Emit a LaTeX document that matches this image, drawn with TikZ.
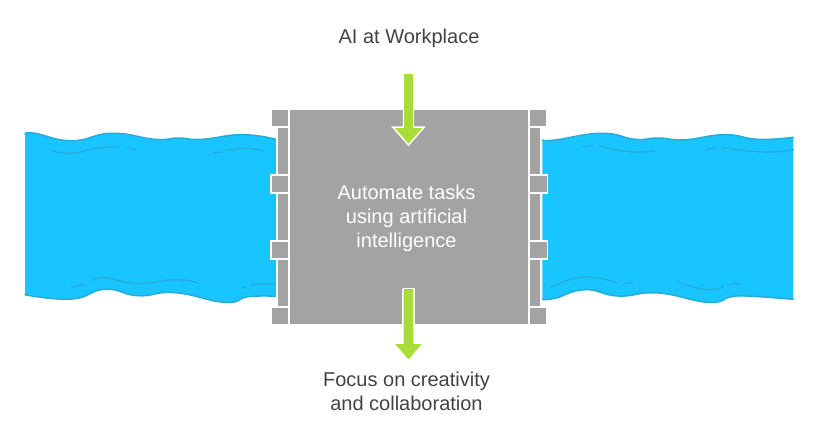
\documentclass[tikz,border=0pt]{standalone}
\usepackage{fontspec}
\setmainfont{Liberation Sans}
\usetikzlibrary{calc}

\definecolor{riverblue}{HTML}{19C5FF}
\definecolor{riverline}{HTML}{27ACD9}
\definecolor{damgray}{HTML}{A3A3A3}
\definecolor{arrowgreen}{HTML}{A8DC36}
\definecolor{labeltext}{HTML}{434343}

\tikzset{
    wave/.style={riverline, line width=1.5pt, line cap=round},
    ripple/.style={riverline, line width=1.4pt, line cap=round},
    damblock/.style={fill=damgray, draw=white, line width=1.5pt},
    label/.style={text=labeltext, font=\fontsize{20}{24}\selectfont, align=center},
    flow/.style={fill=arrowgreen, draw=white, line width=1.5pt, line join=miter},
    curvy/.style={smooth, tension=0.85}
}

% river outlines
\def\lefttop{(25,134) (35,133.3) (72,140.7) (112,133.3) (155,139.3) (178,138) (202,139.3) (242,134.7) (276,139.3)}
\def\leftbot{(276,296.3) (248.3,296.7) (225,302.3) (175,292.7) (138.3,295.7) (105,289.3) (71.7,299) (25,294.7)}
\def\righttop{(542.3,140) (555,140) (601.7,133.3) (635,139.3) (658.3,138) (685,139.7) (725,134.7) (758.3,139.3) (793.3,137.3)}
\def\rightbot{(793.3,299.3) (751.7,296.3) (731.7,296.7) (708.3,302.3) (658.3,293) (618.3,296) (585,289.7) (555,298.3) (542.3,299.3)}

\begin{document}
\begin{tikzpicture}[x=1pt, y=-1pt]

    \useasboundingbox (0, 0) rectangle (818, 440);

    % rivers
    \fill[riverblue] plot[curvy] coordinates {\lefttop} -- plot[curvy] coordinates {\leftbot} -- cycle;
    \fill[riverblue] plot[curvy] coordinates {\righttop} -- plot[curvy] coordinates {\rightbot} -- cycle;
    \draw[wave] plot[curvy] coordinates {\lefttop};
    \draw[wave] plot[curvy] coordinates {\leftbot};
    \draw[wave] plot[curvy] coordinates {\righttop};
    \draw[wave] plot[curvy] coordinates {\rightbot};

    % ripples
    \draw[ripple] plot[curvy] coordinates {(52.3,150.7) (71.7,153.3) (98.3,148) (119,146.7)};
    \draw[ripple] (127.7,147.7) -- (135,149.3);
    \draw[ripple] (213.3,153.3) -- (221.7,151.7);
    \draw[ripple] plot[curvy] coordinates {(225.7,150.7) (245,148.3) (263.3,151)};
    \draw[ripple] (71.7,287.3) -- (85,284.3);
    \draw[ripple] plot[curvy] coordinates {(93.3,280.3) (105,277.7) (138.3,283.7) (175,279.7) (198.3,283)};
    \draw[ripple] (240.7,288.3) -- (245.7,287);
    \draw[ripple] plot[curvy] coordinates {(251.7,285) (265,283.7) (276,284.7)};
    \draw[ripple] (583.3,146.7) -- (591.7,145.7);
    \draw[ripple] plot[curvy] coordinates {(598.3,145.3) (628.3,151.7) (654,150.7)};
    \draw[ripple] (706,150) -- (715.7,147.7);
    \draw[ripple] plot[curvy] coordinates {(721.7,147.3) (761.7,152) (793.3,149.7)};
    \draw[ripple] plot[curvy] coordinates {(551.7,287.3) (583.3,277) (616.7,283)};
    \draw[ripple] (625,283.3) -- (632.7,282.7);
    \draw[ripple] plot[curvy] coordinates {(678.3,282.7) (708.3,289.7) (722.7,286.7)};
    \draw[ripple] (729.3,285) -- (739,283);

    % rails
    \draw[damblock] (277,127) rectangle (289,307);
    \draw[damblock] (529,127) rectangle (541,307);

    % corner tabs
    \foreach \y in {110, 307.7}
    {
        \fill[damgray] (272, \y) rectangle ++(16.3, 16);
        \fill[damgray] (530, \y) rectangle ++(16, 16);
    }

    % middle tabs
    \foreach \y in {175, 241}
    {
        \draw[damblock] (271, \y) rectangle ++(18, 18);
        \draw[damblock] (529, \y) rectangle ++(18.5, 18);
    }

    % dam
    \fill[white] (288.5, 110) rectangle (529.8, 324);
    \fill[damgray] (290, 110) rectangle (528.3, 324);

    % arrows
    \draw[flow] (403.7,74) -- (413.3,74) -- (413.3,127) -- (424.3,127) -- (408.5,145) -- (392.7,127) -- (403.7,127) -- cycle;
    \fill[white] (402.2,74) rectangle (414.8,109.9);
    \fill[arrowgreen] (403.7,74) rectangle (413.3,128);
    \draw[white, line width=1.5pt] (402.9,288.7) -- (414.1,288.7) -- (414.1,324) (402.9,288.7) -- (402.9,324);
    \fill[arrowgreen] (403.7,289.5) -- (413.3,289.5) -- (413.3,344) -- (421.7,344) -- (408.5,359.3) -- (395,344) -- (403.7,344) -- cycle;

    % labels
    \node[label] (workplace) at (409, 38) {AI at Workplace};
    \node[label, text=white] (automate) at (406.5, 218) {Automate tasks\\using artificial\\intelligence};
    \node[label] (creativity) at (406.5, 391.5) {Focus on creativity\\and collaboration};

\end{tikzpicture}
\end{document}
